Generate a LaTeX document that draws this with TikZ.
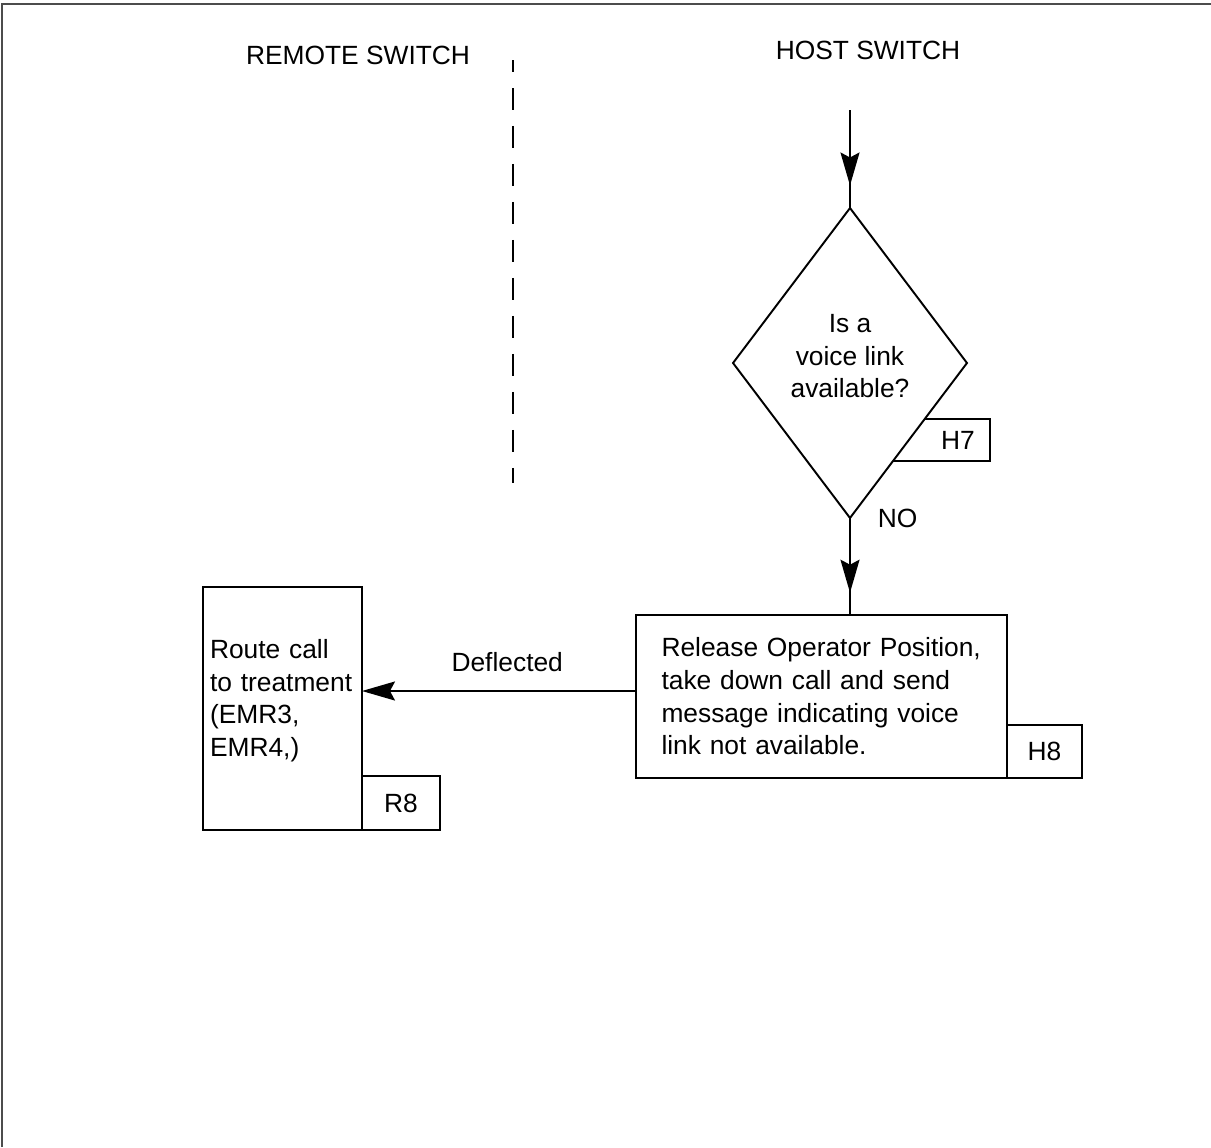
\documentclass[tikz,border=0pt]{standalone}
\usepackage{fontspec}
\setmainfont{Liberation Sans}
\usetikzlibrary{arrows.meta,positioning,calc,shapes.geometric,decorations.markings}

\begin{document}
\begin{tikzpicture}[x=0.02cm,y=-0.02cm,line width=1.1pt,
    font=\fontsize{15pt}{18.6pt}\selectfont,
    >={Stealth[length=0.66cm,width=0.38cm,inset=0.1cm]},
    box/.style={draw,rectangle,inner sep=0pt,outer sep=0pt,align=left},
    tagbox/.style={draw,rectangle,inner sep=0pt,outer sep=0pt,anchor=south west},
    midarrow/.style={postaction={decorate},
      decoration={markings,mark=at position #1 with {\arrow{>}}}}]
  \useasboundingbox (0,0) rectangle (1211,1147);
  \draw[line width=1.3pt,black!70] (2,1147) -- (2,4) -- (1211,4);

  \node (remote) at (358,55) {REMOTE SWITCH};
  \node (host) at (868,50) {HOST SWITCH};
  \draw[dash pattern=on 0.44cm off 0.32cm,dash phase=0.2cm] (513,60) -- (513,483);

  \node[draw,shape=diamond,inner sep=0pt,outer sep=0pt,minimum width=4.68cm,
        minimum height=6.2cm,align=center] (link) at (850,363)
        {Is a\\voice link\\available?\rule[-0.28cm]{0pt}{0pt}};
  \coordinate (entry) at (850,110);
  \draw[midarrow=0.77] (entry) -- (link.north);

  \draw ($(link.east)!0.361!(link.south)$) -- ++(65,0) |- ($(link.east)!0.632!(link.south)$);
  \node (h7) at (958,440) {H7};
  \node[right=0.42cm of link.south] (no) {NO};

  \node[box,minimum width=7.42cm,minimum height=3.26cm,text width=6.4cm] (release)
        at (821.5,696.5) {Release Operator Position,\\take down call and send\\
        message indicating voice\\link not available.};
  \node[tagbox,minimum width=1.5cm,minimum height=1.06cm] (h8) at (release.south east) {H8};
  \draw[midarrow=0.77] (link.south) -- (link.south |- release.north);

  \node[box,minimum width=3.18cm,minimum height=4.86cm,text width=2.9cm] (route)
        at (282.5,708.5) {Route call\\to treatment\\(EMR3,\\EMR4,)\rule[-0.42cm]{0pt}{0pt}};
  \node[tagbox,minimum width=1.56cm,minimum height=1.08cm] (r8) at (route.south east) {R8};

  \coordinate (defl) at ([yshift=0.11cm]release.west);
  \draw[->] (defl) -- (defl -| route.east) node[pos=0.47,yshift=0.58cm] (deflected) {Deflected};
\end{tikzpicture}
\end{document}
